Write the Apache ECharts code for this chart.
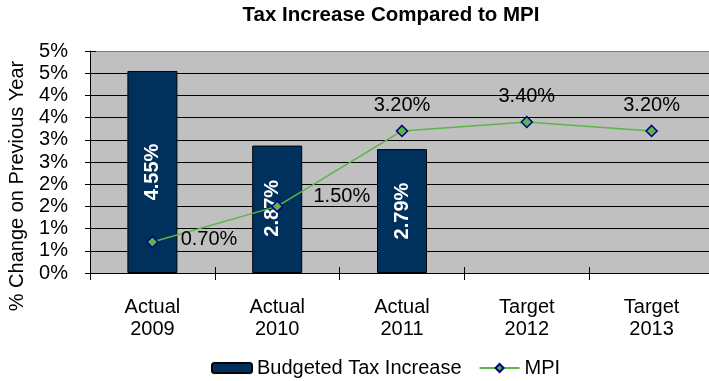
<!DOCTYPE html>
<html>
<head>
<meta charset="utf-8">
<style>
  html, body { margin: 0; padding: 0; background: #fff; }
  #chart { width: 709px; height: 381px; }
</style>
<script src="https://cdn.jsdelivr.net/npm/echarts@6/dist/echarts.min.js"></script>
</head>
<body>
<div id="chart"></div>
<script>
// Category labels along the x axis
const categories = ['Actual\n2009', 'Actual\n2010', 'Actual\n2011', 'Target\n2012', 'Target\n2013'];
// Budgeted tax increase, % change on previous year (no budget yet for targets)
const taxIncrease = [4.55, 2.87, 2.79, '-', '-'];
// MPI, % change on previous year
const mpi = [0.70, 1.50, 3.20, 3.40, 3.20];
// Value axis range and step, in percent
const yMin = 0, yMax = 5, yStep = 0.5;

const FONT = '"Liberation Sans", Arial, sans-serif';
const NAVY = '#00305C';
const GREEN = '#5CB54A';

// gridlines are black, the top edge of the plot is a darker grey
const tickCount = Math.round((yMax - yMin) / yStep) + 1;
const splitColors = [];
for (let i = 0; i < tickCount; i++) splitColors.push(i === tickCount - 1 ? '#7F7F7F' : '#000');

const pct = v => Number(v).toFixed(2) + '%';

// MPI label placement per point
const mpiLabels = [
  { position: 'right', distance: 22, offset: [0, -2] },
  { position: 'right', distance: 22, offset: [8, -10] },
  { position: 'top', distance: 9 },
  { position: 'top', distance: 9 },
  { position: 'top', distance: 9 }
];
const barLabelOffsets = [[0, 0], [1, -5], [0, 0], [0, 0], [0, 0]];

const chart = echarts.init(document.getElementById('chart'), null, { renderer: 'canvas' });

chart.setOption({
  animation: false,
  backgroundColor: '#fff',
  textStyle: { fontFamily: FONT },
  title: {
    text: 'Tax Increase Compared to MPI',
    left: 391,
    top: 5,
    textAlign: 'center',
    padding: 0,
    textStyle: { fontFamily: FONT, fontSize: 20.5, fontWeight: 'bold', color: '#000' }
  },
  legend: {
    left: 211,
    top: 358,
    padding: 0,
    itemWidth: 40,
    itemHeight: 10,
    itemGap: 17,
    textStyle: { fontFamily: FONT, fontSize: 20, color: '#000' },
    data: ['Budgeted Tax Increase', 'MPI']
  },
  graphic: [{
    type: 'text',
    x: 17,
    y: 186,
    rotation: Math.PI / 2,
    style: {
      text: '% Change on Previous Year',
      fontFamily: FONT,
      fontSize: 20,
      fill: '#000',
      textAlign: 'center',
      textVerticalAlign: 'middle'
    }
  }],
  grid: {
    left: 90,
    width: 624,
    top: 51,
    bottom: 108,
    outerBoundsMode: 'none',
    containLabel: false,
    show: true,
    backgroundColor: '#C0C0C0',
    borderWidth: 0
  },
  xAxis: [{
    type: 'category',
    data: categories,
    boundaryGap: true,
    axisLine: { lineStyle: { color: '#000', width: 1 } },
    axisTick: { show: true, length: 7, lineStyle: { color: '#000' } },
    axisLabel: {
      margin: 23,
      fontFamily: FONT,
      fontSize: 20,
      lineHeight: 22,
      color: '#000'
    },
    splitLine: { show: false }
  }, {
    // inner half of the crossing tick marks
    type: 'category',
    data: categories,
    position: 'bottom',
    boundaryGap: true,
    axisLine: { show: false },
    axisTick: { show: true, inside: true, length: 6, lineStyle: { color: '#000' } },
    axisLabel: { show: false },
    splitLine: { show: false }
  }],
  yAxis: [{
    type: 'value',
    min: yMin,
    max: yMax,
    interval: yStep,
    axisLine: { show: true, lineStyle: { color: '#000', width: 1 } },
    axisTick: { show: true, length: 5, lineStyle: { color: '#000' } },
    axisLabel: {
      margin: 22,
      fontFamily: FONT,
      fontSize: 20,
      color: '#000',
      formatter: v => Math.round(v) + '%'
    },
    splitLine: { show: true, lineStyle: { color: splitColors, width: 1 } }
  }, {
    // inner half of the crossing tick marks
    type: 'value',
    position: 'left',
    min: yMin,
    max: yMax,
    interval: yStep,
    axisLine: { show: false },
    axisTick: { show: true, inside: true, length: 6, lineStyle: { color: '#000' } },
    axisLabel: { show: false },
    splitLine: { show: false }
  }],
  series: [{
    name: 'Budgeted Tax Increase',
    type: 'bar',
    barWidth: 50,
    data: taxIncrease.map((v, i) => ({
      value: v,
      label: { offset: barLabelOffsets[i] }
    })),
    itemStyle: { color: NAVY, borderColor: '#000', borderWidth: 1 },
    label: {
      show: true,
      position: 'inside',
      rotate: 90,
      fontFamily: FONT,
      fontSize: 20,
      fontWeight: 'bold',
      color: '#fff',
      formatter: p => pct(p.value)
    },
    z: 2
  }, {
    name: 'MPI',
    type: 'line',
    data: mpi.map((v, i) => ({ value: v, label: mpiLabels[i] })),
    symbol: 'diamond',
    symbolSize: 11,
    lineStyle: { color: GREEN, width: 1.5 },
    itemStyle: { color: GREEN, borderColor: '#000080', borderWidth: 1.5 },
    label: {
      show: true,
      fontFamily: FONT,
      fontSize: 20,
      color: '#000',
      formatter: p => pct(p.value)
    },
    z: 3
  }]
});
</script>
</body>
</html>
